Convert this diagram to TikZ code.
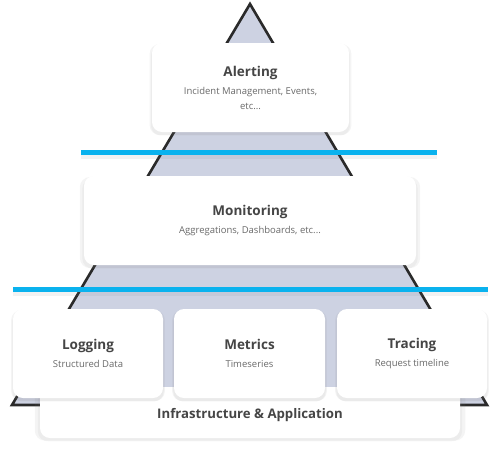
\documentclass[tikz,border=0pt]{standalone}
\usepackage{fontspec}
\setmainfont{Open Sans}
\usepackage{xcolor}
\usetikzlibrary{
    positioning,
    shadows
}
\definecolor{pyrfill}{HTML}{CDD2E2}
\definecolor{pyredge}{HTML}{2A2A2A}
\definecolor{divline}{HTML}{0AB2EE}
\definecolor{titletxt}{HTML}{454545}
\definecolor{subtxt}{HTML}{6A6A6A}
\newcommand{\titlefont}{\fontsize{13.5}{18}\selectfont\bfseries\color{titletxt}}
\newcommand{\subfont}{\fontsize{9.5}{15}\selectfont\color{subtxt}}
\tikzset{
    tier/.style={fill=white, rounded corners=10pt, inner sep=0pt,
        drop shadow={opacity=0.09, shadow xshift=0pt, shadow yshift=-2pt, shadow scale=1.025},
        drop shadow={opacity=0.07, shadow xshift=0pt, shadow yshift=-3pt, shadow scale=1.01}},
    divider/.style={fill=divline, inner sep=0pt, minimum height=5pt,
        drop shadow={opacity=0.10, shadow xshift=0pt, shadow yshift=-4pt}},
    pyramid/.style={fill=pyrfill, draw=pyredge, line width=2.6pt, line join=miter}
}
% name, x, y, width, height, title, subtitle
\newcommand{\tierbox}[7]{
    \node[tier, minimum width=#4, minimum height=#5] (#1) at (#2, #3) {};
    \node[align=center, font=\subfont] (#1-txt) at (#1) {{\titlefont #6}\\[3pt]#7};
}

\begin{document}
\begin{tikzpicture}[x=1pt, y=-1pt]
    \useasboundingbox (0, 0) rectangle (500, 453);
    \coordinate (apex) at (250, 4);
    \coordinate (bl) at (12, 405);
    \coordinate (br) at (487, 405);
    \draw[pyramid] (apex) -- (br) -- (bl) -- cycle;
    % base
    \node[tier, minimum width=420pt, minimum height=51pt] (infra) at (250, 412.5) {};
    \node (infra-txt) at (250, 415) {\fontsize{13.2}{18}\selectfont\bfseries\color{titletxt}Infrastructure \& Application};
    % dividers
    \node[divider, minimum width=356pt] (div1) at (259, 152) {};
    \node[divider, minimum width=475pt] (div2) at (250.5, 289) {};
    \tierbox{alert}{250.5}{87.5}{197pt}{89pt}{Alerting}{Incident Management, Events,\\etc...}
    \tierbox{monitor}{250}{220.5}{332pt}{89pt}{Monitoring}{Aggregations, Dashboards, etc...}
    \tierbox{logging}{88}{353.5}{150pt}{89pt}{Logging}{Structured Data}
    \tierbox{metrics}{249.5}{353.5}{151pt}{89pt}{Metrics}{Timeseries}
    \tierbox{tracing}{412}{353.5}{150pt}{89pt}{Tracing}{Request timeline}
\end{tikzpicture}
\end{document}
